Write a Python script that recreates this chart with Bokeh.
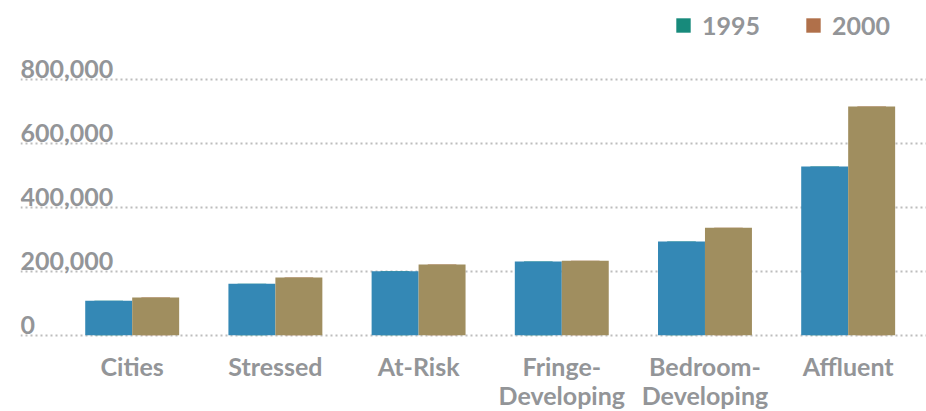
from bokeh.plotting import figure
from bokeh.models import (ColumnDataSource, Range1d, FixedTicker, Legend, LegendItem)
from bokeh.transform import dodge
from bokeh.core.properties import value
from bokeh.embed import file_html
from bokeh.resources import INLINE

categories = ["Cities", "Stressed", "At-Risk", "Fringe-\nDeveloping", "Bedroom-\nDeveloping", "Affluent"]
v1995 = [108000, 161000, 200000, 230000, 293000, 527000]
v2000 = [118000, 180000, 221000, 233000, 336000, 715000]
years = ["1995", "2000"]
y_ticks = [0, 200000, 400000, 600000, 800000]
y_tick_labels = ["0", "200,000", "400,000", "600,000", "800,000"]

FONT = "Lato"
GRAY = "#939598"
BAR_COLORS = ["#3488b5", "#a08e5f"]
LEGEND_COLORS = ["#178a7b", "#b0704a"]

idx = [i + 0.5 for i in range(len(categories))]
src = ColumnDataSource(dict(x=idx, v1995=v1995, v2000=v2000))

X0 = -0.28
p = figure(width=926, height=411, output_backend="svg", toolbar_location=None,
           x_range=Range1d(X0, X0 + 6.327), y_range=Range1d(-238400, 1045900),
           min_border_left=20, min_border_right=0, min_border_top=0, min_border_bottom=0)
p.outline_line_color = None
p.background_fill_color = "white"

p.xgrid.visible = False
p.ygrid.ticker = FixedTicker(ticks=y_ticks)
p.ygrid.grid_line_color = "#bdbdbd"
p.ygrid.grid_line_width = 2
p.ygrid.grid_line_dash = "2 3"
p.yaxis.visible = False
p.xaxis.visible = False

# legend swatch renderers (legend colours differ from bar colours); they sit
# fully hidden beneath the real bars
k1 = p.vbar(x=dodge("x", -0.164, range=p.x_range), top="v1995", width=0.2, source=src,
            fill_color=LEGEND_COLORS[0], line_color=None)
k2 = p.vbar(x=dodge("x", 0.164, range=p.x_range), top="v2000", width=0.2, source=src,
            fill_color=LEGEND_COLORS[1], line_color=None)

p.vbar(x=dodge("x", -0.164, range=p.x_range), top="v1995", width=0.328, source=src,
       fill_color=BAR_COLORS[0], line_color=None)
p.vbar(x=dodge("x", 0.164, range=p.x_range), top="v2000", width=0.328, source=src,
       fill_color=BAR_COLORS[1], line_color=None)

# y tick labels drawn inside the plot, above each gridline
lab_src = ColumnDataSource(dict(x=[X0] * len(y_ticks), y=y_ticks, t=y_tick_labels))
p.text(x="x", y="y", text="t", source=lab_src, text_font=value(FONT),
       text_font_style="bold", text_font_size="25px", text_color=GRAY,
       text_baseline="bottom", text_align="left", y_offset=-1)

# category labels below the baseline
cat_src = ColumnDataSource(dict(x=idx, y=[0] * len(idx), t=categories))
p.text(x="x", y="y", text="t", source=cat_src, text_font=value(FONT),
       text_font_style="bold", text_font_size="25px", text_color=GRAY,
       text_baseline="top", text_align="center", text_line_height=0.97, y_offset=16)

legend = Legend(items=[LegendItem(label=years[0], renderers=[k1]),
                       LegendItem(label=years[1], renderers=[k2])],
                location=(654, 371), orientation="horizontal",
                glyph_width=18, glyph_height=18, label_standoff=10, spacing=44,
                padding=0, margin=0, border_line_color=None, background_fill_alpha=0,
                label_text_font=FONT, label_text_font_style="bold",
                label_text_font_size="25px", label_text_color=GRAY)
p.add_layout(legend)

open("out.html", "w").write(file_html(p, INLINE))
